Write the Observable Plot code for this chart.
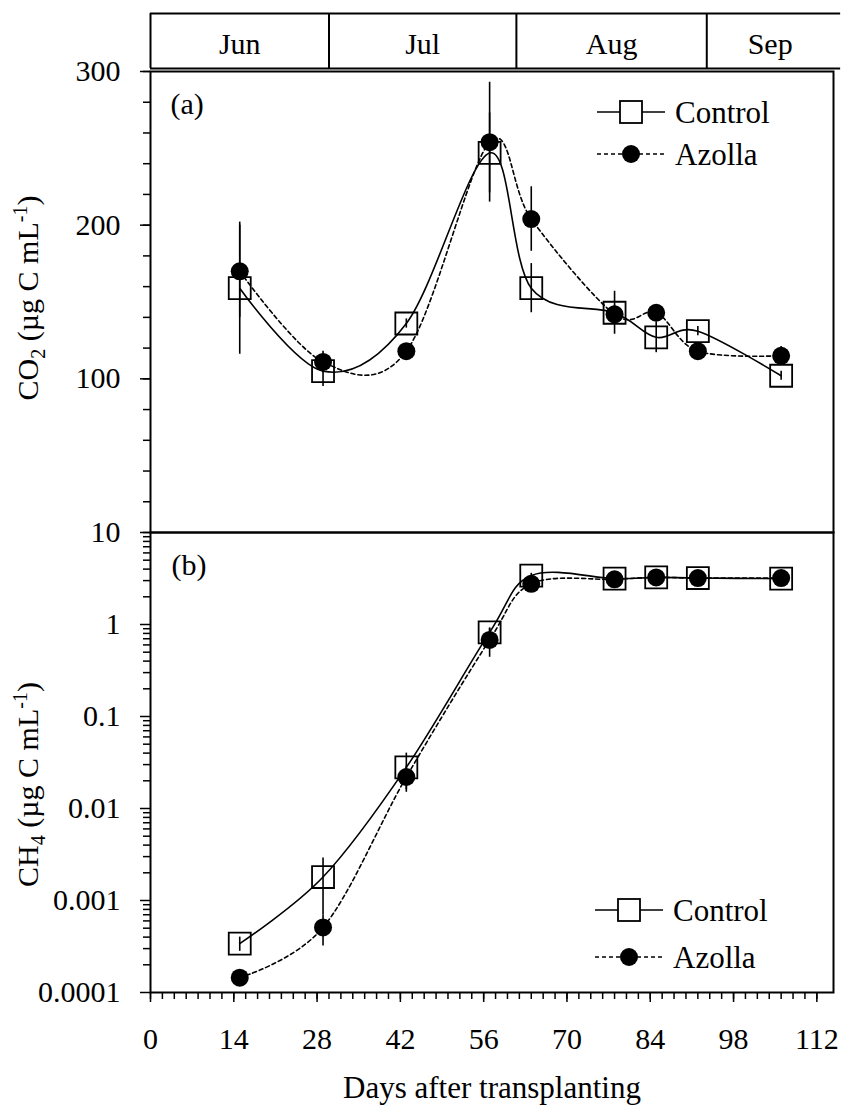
<!DOCTYPE html>
<html>
<head>
<meta charset="utf-8">
<script src="https://cdn.jsdelivr.net/npm/d3@7"></script>
<script src="https://cdn.jsdelivr.net/npm/@observablehq/plot@0.6"></script>
<style>
html, body { margin: 0; padding: 0; background: #fff; }
#wrap { position: relative; width: 842px; height: 1106px; overflow: hidden; }
#wrap > svg { position: absolute; left: 0; }
</style>
</head>
<body>
<div id="wrap"></div>
<script>
// ---------- data ----------
const days = [15, 29, 43, 57, 64, 78, 85, 92, 106];

const co2Control    = [159, 105, 136, 247, 159, 143, 127, 131, 102];
const co2ControlErr = [43, 10, 3, 26, 16, 14, 10, 3, 3];
const co2Azolla     = [170, 111, 118, 254, 204, 142, 143, 118, 115];
const co2AzollaErr  = [30, 7, 3, 39, 21, 6, 4, 3, 6];

const ch4Control    = [0.00034, 0.0018, 0.028, 0.82, 3.4, 3.15, 3.25, 3.2, 3.15];
const ch4ControlErr = [0.00006, 0.0011, 0.012, 0.08, 0.2, 0.1, 0.1, 0.1, 0.1];
const ch4Azolla     = [0.000145, 0.00051, 0.022, 0.68, 2.77, 3.1, 3.25, 3.2, 3.2];
const ch4AzollaErr  = [0.00001, 0.00019, 0.007, 0.24, 0.15, 0.1, 0.1, 0.1, 0.1];

const months     = ["Jun", "Jul", "Aug", "Sep"];
const monthStart = [0, 30, 61.5, 93.5];
const monthEnd   = [30, 61.5, 93.5, 116];

const xTicks     = [0, 14, 28, 42, 56, 70, 84, 98, 112];
const co2Ticks   = [100, 200, 300];
const ch4Ticks   = [10, 1, 0.1, 0.01, 0.001, 0.0001];

const seriesNames = ["Control", "Azolla"];
const xTitle   = "Days after transplanting";
const panelTags = ["(a)", "(b)"];

// ---------- derived ----------
const xMinor = d3.range(0, 113, 2);
const co2Minor = d3.range(0, 301, 20);
const ch4Minor = [];
for (const t of ch4Ticks.slice(1)) for (let k = 2; k <= 9; k++) ch4Minor.push(+(k * t).toPrecision(3));

const co2Rows = days.map((d, i) => ({day: d, c: co2Control[i], ce: co2ControlErr[i], a: co2Azolla[i], ae: co2AzollaErr[i]}));
const ch4Rows = days.map((d, i) => ({day: d, c: ch4Control[i], ce: ch4ControlErr[i], a: ch4Azolla[i], ae: ch4AzollaErr[i]}));

const W = 842, ML = 150, MR = 9, XMAX = 114.8;
const FONT = "'Liberation Serif', 'Times New Roman', serif";
const style = `font-family: ${FONT}; font-size: 30px; color: #000; background: transparent; overflow: visible;`;
const SQ_R = 12.4, DOT_R = 9;

function dataMarks(rows) {
  return [
    Plot.ruleX(rows, {x: "day", y1: d => d.c - d.ce, y2: d => d.c + d.ce, stroke: "#000", strokeWidth: 1.6}),
    Plot.ruleX(rows, {x: "day", y1: d => d.a - d.ae, y2: d => d.a + d.ae, stroke: "#000", strokeWidth: 1.6}),
    Plot.line(rows, {x: "day", y: "c", curve: "cardinal", stroke: "#000", strokeWidth: 1.6}),
    Plot.line(rows, {x: "day", y: "a", curve: "cardinal", stroke: "#000", strokeWidth: 1.6, strokeDasharray: "4,3"}),
    Plot.dot(rows, {x: "day", y: "c", symbol: "square", r: SQ_R, stroke: "#000", strokeWidth: 1.8, fill: "none"}),
    Plot.dot(rows, {x: "day", y: "a", r: DOT_R, fill: "#000", stroke: "none"})
  ];
}

const wrap = document.getElementById("wrap");

// ---------- month bar ----------
const monthPlot = Plot.plot({
  width: W, height: 80, marginLeft: ML, marginRight: MR, marginTop: 13, marginBottom: 12,
  style,
  x: {domain: [0, XMAX], axis: null},
  y: {domain: [0, 1], axis: null},
  marks: [
    Plot.ruleY([0, 1], {x1: monthStart[0], x2: monthEnd[monthEnd.length - 1], stroke: "#000", strokeWidth: 2}),
    Plot.ruleX(monthStart, {y1: 0, y2: 1, stroke: "#000", strokeWidth: 2}),
    Plot.text(months, {x: (d, i) => (monthStart[i] + Math.min(monthEnd[i], XMAX)) / 2, y: 0.5, dy: 3, text: d => d, fontSize: 30, fill: "#000"})
  ]
});
monthPlot.style.top = "0px";
wrap.appendChild(monthPlot);

// ---------- panel (a) CO2 ----------
const topPlot = Plot.plot({
  width: W, height: 500, marginLeft: ML, marginRight: MR, marginTop: 21, marginBottom: 18,
  style,
  x: {domain: [0, XMAX], axis: null},
  y: {domain: [0, 300]},
  marks: [
    Plot.axisY({ticks: co2Minor, tickSize: 7, tickFormat: () => "", label: null, strokeWidth: 1.5}),
    Plot.axisY({ticks: co2Ticks, tickSize: 10, tickPadding: 20, tickFormat: d => String(d), label: null, strokeWidth: 1.5}),
    ...dataMarks(co2Rows),
    Plot.frame({stroke: "#000", strokeWidth: 2}),
    Plot.text([panelTags[0]], {frameAnchor: "top-left", dx: 20, dy: 21, lineAnchor: "top", textAnchor: "start", fontSize: 30, fill: "#000"}),
    Plot.text(["CO2TITLE"], {frameAnchor: "left", dx: -122, dy: -4, rotate: -90, textAnchor: "middle", fontSize: 30, fill: "#000"})
  ]
});
topPlot.style.top = "50px";
wrap.appendChild(topPlot);

// ---------- panel (b) CH4 ----------
const botPlot = Plot.plot({
  width: W, height: 594, marginLeft: ML, marginRight: MR, marginTop: 20, marginBottom: 114,
  style,
  x: {domain: [0, XMAX]},
  y: {type: "log", domain: [0.0001, 10]},
  marks: [
    Plot.axisX({ticks: xMinor, tickSize: 7, tickFormat: () => "", label: null, strokeWidth: 1.5}),
    Plot.axisX({ticks: xTicks, tickSize: 10, tickPadding: 25, tickFormat: d => String(d), label: null, strokeWidth: 1.5}),
    Plot.axisY({ticks: ch4Minor, tickSize: 7, tickFormat: () => "", label: null, strokeWidth: 1.5}),
    Plot.axisY({ticks: ch4Ticks, tickSize: 10, tickPadding: 20, tickFormat: d => String(d), label: null, strokeWidth: 1.5}),
    ...dataMarks(ch4Rows),
    Plot.frame({stroke: "#000", strokeWidth: 2}),
    Plot.text([panelTags[1]], {frameAnchor: "top-left", dx: 21, dy: 21, lineAnchor: "top", textAnchor: "start", fontSize: 30, fill: "#000"}),
    Plot.text(["CH4TITLE"], {frameAnchor: "left", dx: -122, dy: 22, rotate: -90, textAnchor: "middle", fontSize: 30, fill: "#000"}),
    Plot.text([xTitle], {frameAnchor: "bottom", dy: 105, textAnchor: "middle", fontSize: 31, fill: "#000"})
  ]
});
botPlot.style.top = "512px";
wrap.appendChild(botPlot);

// ---------- rich axis titles (subscript / superscript) ----------
function richTitle(svg, key, main, sub) {
  const t = Array.from(svg.querySelectorAll("text")).find(e => e.textContent === key);
  if (!t) return;
  while (t.firstChild) t.removeChild(t.firstChild);
  const NS = "http://www.w3.org/2000/svg";
  const add = (txt, attrs) => {
    const s = document.createElementNS(NS, "tspan");
    for (const k in attrs) s.setAttribute(k, attrs[k]);
    s.textContent = txt;
    t.appendChild(s);
  };
  add(main, {});
  add(sub, {dy: "7", "font-size": "20"});
  add(" (µg C mL", {dy: "-7"});
  add("-1", {dy: "-11", "font-size": "20"});
  add(")", {dy: "11"});
}
richTitle(topPlot, "CO2TITLE", "CO", "2");
richTitle(botPlot, "CH4TITLE", "CH", "4");

// ---------- legends ----------
const leg = d3.select(wrap).append("svg")
  .attr("width", W).attr("height", 1106)
  .style("position", "absolute").style("top", "0px").style("left", "0px")
  .style("font-family", FONT).style("font-size", "31px");

function legend(x0, yRows) {
  const g = leg.append("g");
  seriesNames.forEach((name, i) => {
    const y = yRows[i];
    g.append("line").attr("x1", x0).attr("x2", x0 + 68).attr("y1", y).attr("y2", y)
      .attr("stroke", "#000").attr("stroke-width", 1.6)
      .attr("stroke-dasharray", i === 1 ? "4,3" : null);
    if (i === 0) {
      g.append("rect").attr("x", x0 + 34 - 11).attr("y", y - 11).attr("width", 22).attr("height", 22)
        .attr("fill", "#fff").attr("stroke", "#000").attr("stroke-width", 1.8);
    } else {
      g.append("circle").attr("cx", x0 + 34).attr("cy", y).attr("r", DOT_R).attr("fill", "#000");
    }
    g.append("text").attr("x", x0 + 78).attr("y", y).attr("dy", "0.34em").text(name);
  });
}
legend(597, [112, 154]);
legend(595, [910, 957]);
</script>
</body>
</html>
